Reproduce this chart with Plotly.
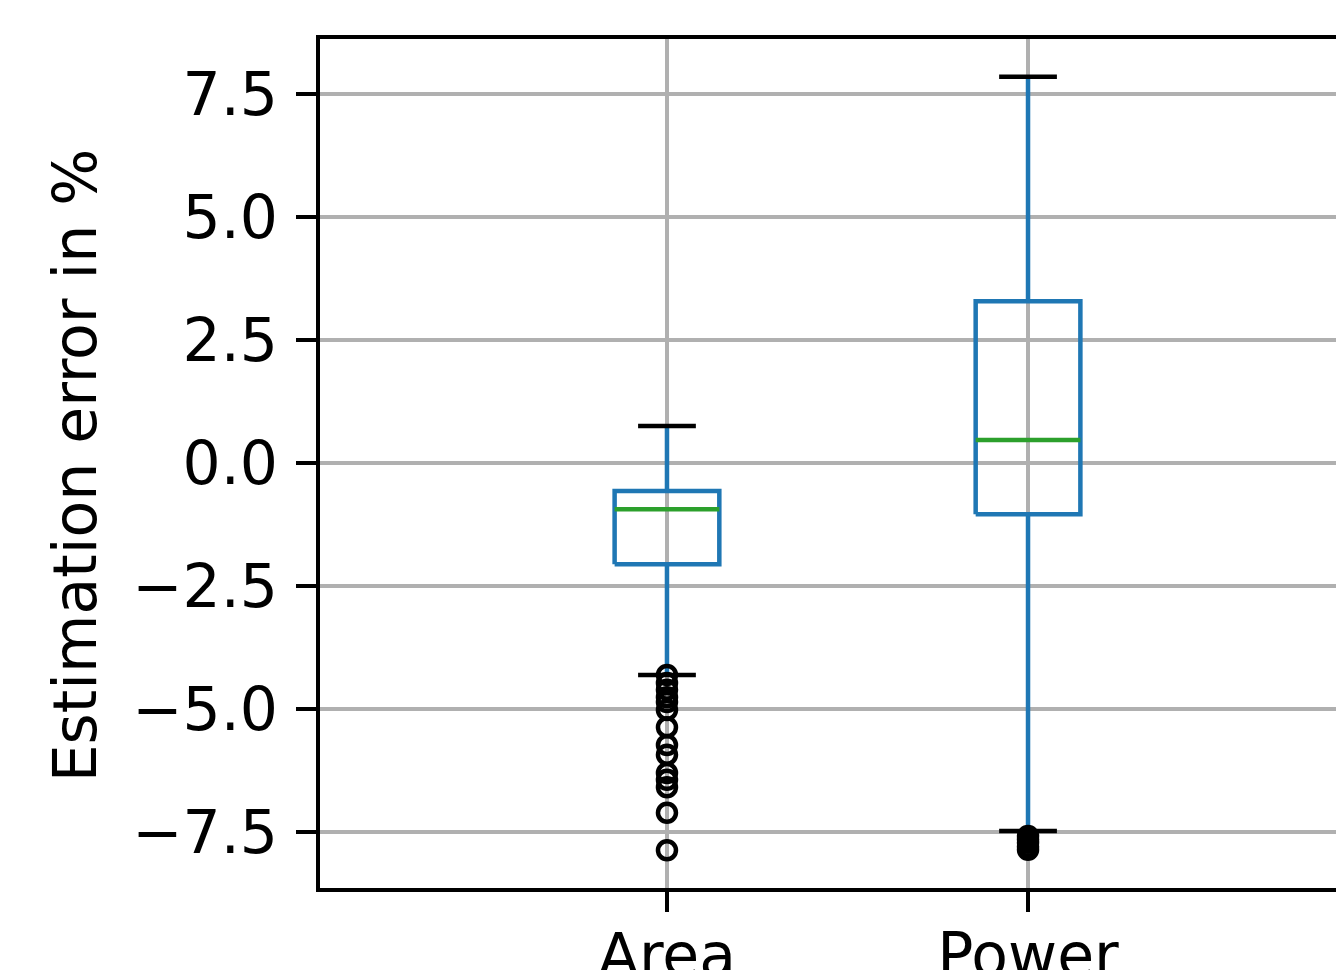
import plotly.graph_objects as go

categories = ["Area", "Power"]
positions = [0, 1]
whisker_low = [-4.31, -7.48]
q1 = [-2.06, -1.04]
median = [-0.94, 0.47]
q3 = [-0.57, 3.29]
whisker_high = [0.75, 7.85]
area_outliers = [-4.31, -4.47, -4.61, -4.76, -4.86, -5.02, -5.37, -5.73, -5.93, -6.30, -6.44, -6.59, -7.11, -7.87]
power_outliers = [-7.58, -7.65, -7.72, -7.80, -7.86]
outliers = [area_outliers, power_outliers]
ytick_vals = [-7.5, -5.0, -2.5, 0.0, 2.5, 5.0, 7.5]

BLUE = "#1f77b4"
GREEN = "#2ca02c"
BOX_HALF = 0.145
CAP_HALF = 0.08
LW = 4.5

fig = go.Figure()
for i, p in enumerate(positions):
    fig.add_trace(go.Scatter(
        x=[p - BOX_HALF, p + BOX_HALF, p + BOX_HALF, p - BOX_HALF, p - BOX_HALF],
        y=[q1[i], q1[i], q3[i], q3[i], q1[i]],
        mode="lines", line=dict(color=BLUE, width=LW), showlegend=False, hoverinfo="skip"))
    fig.add_trace(go.Scatter(
        x=[p, p, None, p, p],
        y=[q1[i], whisker_low[i], None, q3[i], whisker_high[i]],
        mode="lines", line=dict(color=BLUE, width=LW), showlegend=False, hoverinfo="skip"))
    fig.add_trace(go.Scatter(
        x=[p - CAP_HALF, p + CAP_HALF, None, p - CAP_HALF, p + CAP_HALF],
        y=[whisker_low[i], whisker_low[i], None, whisker_high[i], whisker_high[i]],
        mode="lines", line=dict(color="black", width=LW), showlegend=False, hoverinfo="skip"))
    fig.add_trace(go.Scatter(
        x=[p - BOX_HALF, p + BOX_HALF], y=[median[i], median[i]],
        mode="lines", line=dict(color=GREEN, width=LW), showlegend=False, hoverinfo="skip"))
    fig.add_trace(go.Scatter(
        x=[p] * len(outliers[i]), y=outliers[i], mode="markers",
        marker=dict(symbol="circle-open", size=18, color="black", line=dict(width=4.5, color="black")),
        showlegend=False))

FONT = dict(family="DejaVu Sans", size=60, color="black")

fig.update_layout(
    width=1336, height=970,
    margin=dict(l=320, r=0, t=39, b=82, autoexpand=False),
    paper_bgcolor="white", plot_bgcolor="white",
    font=FONT,
    xaxis=dict(range=[-0.961, 1.853], tickvals=positions, ticktext=categories,
               showgrid=True, gridcolor="#b0b0b0", gridwidth=4,
               showline=True, linecolor="black", linewidth=4, mirror=True,
               ticks="outside", ticklen=20, tickwidth=4, tickcolor="black",
               zeroline=False, tickfont=FONT, automargin=False,
               ticklabelstandoff=-8),
    yaxis=dict(range=[-8.638, 8.618], tickvals=ytick_vals, tickformat=".1f",
               showgrid=True, gridcolor="#b0b0b0", gridwidth=4,
               showline=True, linecolor="black", linewidth=4, mirror=False,
               ticks="outside", ticklen=20, tickwidth=4, tickcolor="black",
               zeroline=False, tickfont=FONT, automargin=False,
               ticklabelstandoff=6),
    annotations=[dict(text="Estimation error in %", xref="paper", yref="paper",
                      x=-0.241, y=0.498, showarrow=False, textangle=-90,
                      font=FONT, xanchor="center", yanchor="middle")],
)

fig.write_html(
    "out.html",
    config={"displayModeBar": False},
    post_script="document.body.style.margin='0';document.body.style.overflow='hidden';",
)
